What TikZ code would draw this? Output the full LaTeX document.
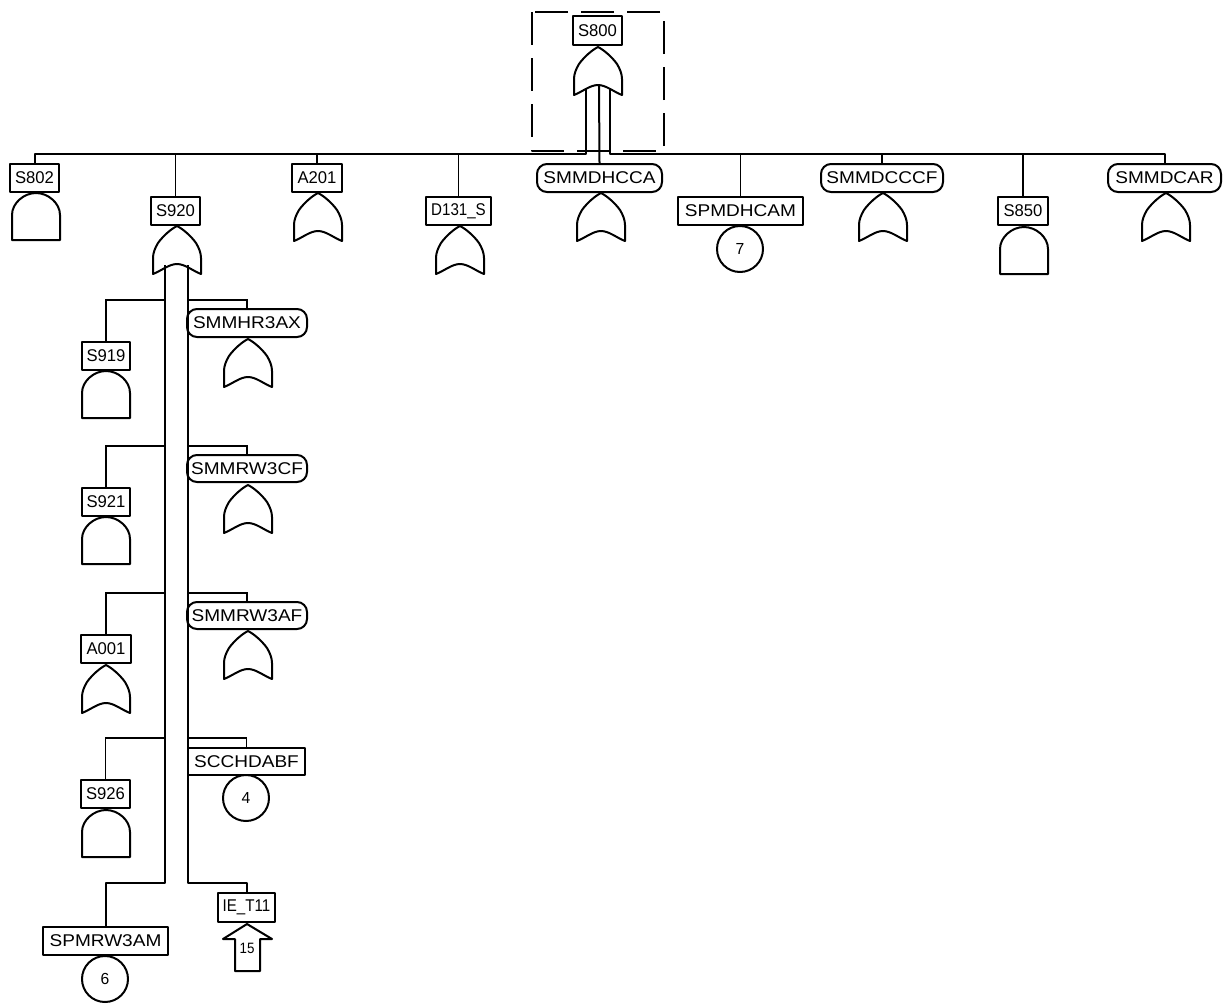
\documentclass[tikz,border=0pt]{standalone}
\usepackage{fontspec}
\setmainfont[FakeStretch=1.12]{Liberation Sans}
\newfontfamily\shortf[FakeStretch=0.98]{Liberation Sans}
\newfontfamily\shorterf[FakeStretch=0.89]{Liberation Sans}
\tikzset{
  ln/.style={draw=black,line width=2pt,line join=round},
  thin ln/.style={draw=black,line width=1.8pt},
  lab/.style={ln,fill=white,inner sep=0pt,font=\fontsize{17}{20}\selectfont},
  boxa/.style={lab,rectangle},
  boxr/.style={lab,rectangle,rounded corners=10pt},
  ref/.style={ln,circle,minimum size=46pt,inner sep=0pt,font=\shortf\fontsize{16}{18}\selectfont},
}
\newcommand{\lbl}[7][boxa]{%
  \node[#1,minimum width=#5pt-#3pt,minimum height=#6pt-#4pt] (#2) at ({(#3+#5)/2},{(#4+#6)/2}) {#7};}
\newcommand{\orgate}[2]{%
  \draw[ln,shift={(#1,#2)}] (0,0) .. controls (-6,3) and (-14,10) .. (-19,17)
    .. controls (-22,22) and (-24,27) .. (-24,32) -- (-24,48)
    .. controls (-16,45) and (-8,38) .. (0,38)
    .. controls (8,38) and (16,45) .. (24,48) -- (24,32)
    .. controls (24,27) and (22,22) .. (19,17)
    .. controls (14,10) and (6,3) .. (0,0) -- cycle;}
\newcommand{\andgate}[2]{%
  \draw[ln,shift={(#1,#2)}] (-24,47) -- (-24,22)
    .. controls (-24,10) and (-12,0) .. (0,0)
    .. controls (12,0) and (24,10) .. (24,22) -- (24,47) -- cycle;}
\begin{document}
\begin{tikzpicture}[x=1pt,y=-1pt]
\useasboundingbox (0,0) rectangle (1228,1004);

% dashed frame
\draw[ln,dash pattern=on 33pt off 13pt] (532,12) rectangle (664,151);

% connector anchors
\coordinate (tl) at (586,89);
\coordinate (tm) at (599,85);
\coordinate (tr) at (610,89);
\coordinate (tlb) at (586,154);
\coordinate (trb) at (610,154);
\coordinate (bl) at (165,265);
\coordinate (br) at (188,265);
\coordinate (blb) at (165,883);
\coordinate (brb) at (188,883);
\coordinate (l1) at (165,300);
\coordinate (l2) at (165,446);
\coordinate (l3) at (165,593);
\coordinate (l4) at (165,738);
\coordinate (r1) at (188,300);
\coordinate (r2) at (188,446);
\coordinate (r3) at (188,593);
\coordinate (r4) at (188,738);

% labels
\lbl{S800}{573}{16}{622}{45}{\shortf S800}
\lbl{S802}{10}{164}{59}{192}{\shortf S802}
\lbl{S920}{151}{197}{200}{225}{\shortf S920}
\lbl{A201}{292}{164}{342}{192}{\shortf A201}
\lbl{D131}{426}{197}{491}{225}{\shorterf D131\_S}
\lbl[boxr]{SMMDHCCA}{537}{164}{662}{192}{SMMDHCCA}
\lbl{SPMDHCAM}{678}{197}{803}{225}{SPMDHCAM}
\lbl[boxr]{SMMDCCCF}{821}{164}{943}{192}{SMMDCCCF}
\lbl{S850}{998}{197}{1048}{225}{\shortf S850}
\lbl[boxr]{SMMDCAR}{1108}{164}{1221}{192}{SMMDCAR}

\lbl{S919}{82}{342}{130}{370}{\shortf S919}
\lbl{S921}{82}{488}{130}{516}{\shortf S921}
\lbl{A001}{81}{635}{131}{663}{\shortf A001}
\lbl{S926}{81}{780}{130}{808}{\shortf S926}
\lbl{SPMRW3AM}{43}{927}{168}{955}{SPMRW3AM}
\lbl[boxr]{SMMHR3AX}{187}{309}{307}{337}{SMMHR3AX}
\lbl[boxr]{SMMRW3CF}{187}{455}{307}{482}{SMMRW3CF}
\lbl[boxr]{SMMRW3AF}{187}{602}{307}{629}{SMMRW3AF}
\lbl{SCCHDABF}{188}{748}{305}{775}{SCCHDABF}
\lbl{IET}{218}{893}{275}{922}{\shorterf IE\_T11}

% transfer circles
\node[ref] (c7) at (740,249) {7};
\node[ref] (c4) at (246,798) {4};
\node[ref] (c6) at (105,979) {6};

% gates
\orgate{598}{47}
\andgate{36}{193}
\orgate{177}{226}
\orgate{318}{193}
\orgate{460}{226}
\orgate{601}{193}
\orgate{883}{193}
\andgate{1024}{227}
\orgate{1166}{193}
\andgate{106}{371}
\andgate{106}{517}
\orgate{106}{665}
\andgate{106}{810}
\orgate{248}{339}
\orgate{248}{485}
\orgate{248}{631}

% transfer-in triangle
\draw[ln] (247,924) -- (272,939) -- (260,939) -- (260,971) -- (235,971) -- (235,939) -- (223,939) -- cycle;
\node[font=\shorterf\fontsize{15}{18}\selectfont,inner sep=0pt] (t15) at (247,948) {15};

% top bus
\draw[ln] (tl) -- (tlb) -| (S802.north);
\draw[ln] (tr) -- (trb) -| (SMMDCAR.north);
\draw[ln] (tm) -- (SMMDHCCA.north);
\draw[thin ln] (S920.north) -- (S920.north |- tlb);
\draw[thin ln] (A201.north) -- (A201.north |- tlb);
\draw[thin ln] (D131.north) -- (D131.north |- tlb);
\draw[thin ln] (SPMDHCAM.north) -- (SPMDHCAM.north |- trb);
\draw[thin ln] (SMMDCCCF.north) -- (SMMDCCCF.north |- trb);
\draw[thin ln] (S850.north) -- (S850.north |- trb);

% S920 bus
\draw[ln] (bl) -- (blb) -| (SPMRW3AM.north);
\draw[ln] (br) -- (brb) -| (IET.north);
\draw[thin ln] (l1) -| (S919.north);
\draw[thin ln] (l2) -| (S921.north);
\draw[thin ln] (l3) -| (A001.north);
\draw[thin ln] (l4) -| (S926.north);
\draw[thin ln] (r1) -| (SMMHR3AX.north);
\draw[thin ln] (r2) -| (SMMRW3CF.north);
\draw[thin ln] (r3) -| (SMMRW3AF.north);
\draw[thin ln] (r4) -| (SCCHDABF.north);
\end{tikzpicture}
\end{document}
